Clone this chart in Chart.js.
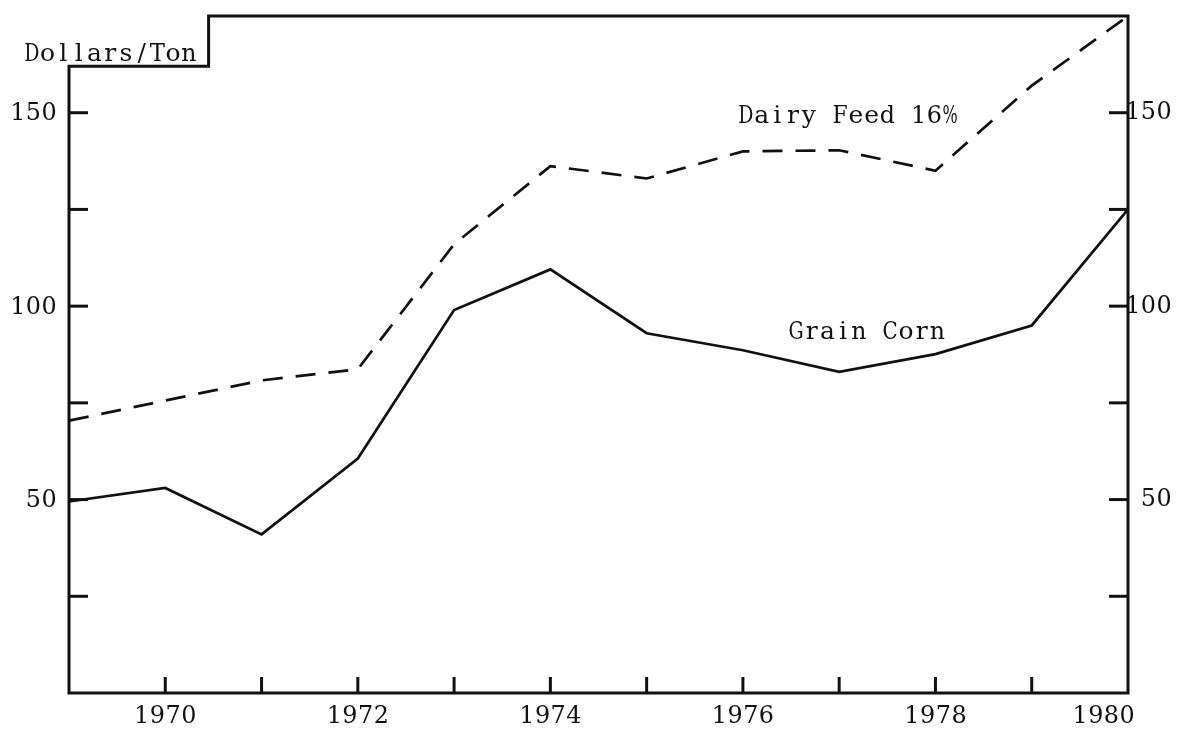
<!DOCTYPE html>
<html><head><meta charset="utf-8">
<script src="https://cdn.jsdelivr.net/npm/chart.js@4/dist/chart.umd.min.js"></script>
<style>html,body{margin:0;padding:0;background:#fff}#wrap{width:1178px;height:731px}</style>
</head><body><div id="wrap"><canvas id="c" width="1178" height="731"></canvas></div>
<script>
// ---- data ----
const years = [1969,1970,1971,1972,1973,1974,1975,1976,1977,1978,1979,1980];
const grainCorn = [49.5,53,41,60.6,99,109.5,93,88.6,83,87.6,95,125];
const dairyFeed = [70.4,75.6,80.8,83.7,116,136.2,133,140,140.3,135,157,175];
const seriesNames = ['Grain Corn','Dairy Feed 16%'];
const seriesLabelAt = [{year:1976.47, value:93.3},{year:1975.95, value:148.9}];
const yTickValues = [25,50,75,100,125,150];
const yLabelValues = [50,100,150];
const xTickYears = [1970,1971,1972,1973,1974,1975,1976,1977,1978,1979];
const xLabelYears = [1970,1972,1974,1976,1978,1980];
const unitLabel = 'Dollars/Ton';
const frameNotch = {year:1970.45, value:162};
const yRange = [0,175];
const xRange = [1969,1980];

const FONT = '25px "DejaVu Serif", "Liberation Serif", serif';
const CELL = 15.7;   // typewriter character pitch
const INK = '#111';

// typewriter-style text: one glyph per fixed-width cell
function typeText(ctx, str, x, y, align){
  const w = str.length * CELL;
  let x0 = align === 'right' ? x - w : align === 'center' ? x - w/2 : x;
  ctx.save();
  ctx.textAlign = 'center';
  for (let i = 0; i < str.length; i++){
    const ch = str[i];
    if (ch !== ' ') ctx.fillText(ch, x0 + (i + 0.5) * CELL, y, CELL - 0.5);
  }
  ctx.restore();
}

const decor = {
  id:'decor',
  beforeDatasetsDraw(chart){
    const ctx = chart.ctx, xs = chart.scales.x, ys = chart.scales.y;
    const L = xs.getPixelForValue(xRange[0]), R = xs.getPixelForValue(xRange[1]);
    const B = ys.getPixelForValue(yRange[0]), T = ys.getPixelForValue(yRange[1]);
    const nx = xs.getPixelForValue(frameNotch.year), ny = ys.getPixelForValue(frameNotch.value);
    ctx.save();
    ctx.strokeStyle = INK; ctx.lineWidth = 3; ctx.lineJoin = 'miter';
    ctx.beginPath();
    ctx.moveTo(L,B); ctx.lineTo(L,ny); ctx.lineTo(nx,ny); ctx.lineTo(nx,T);
    ctx.lineTo(R,T); ctx.lineTo(R,B); ctx.closePath(); ctx.stroke();
    yTickValues.forEach(v=>{
      const y = ys.getPixelForValue(v);
      ctx.beginPath(); ctx.moveTo(L,y); ctx.lineTo(L+19,y); ctx.stroke();
      ctx.beginPath(); ctx.moveTo(R-19,y); ctx.lineTo(R,y); ctx.stroke();
    });
    xTickYears.forEach(yr=>{
      const x = xs.getPixelForValue(yr);
      ctx.beginPath(); ctx.moveTo(x,B); ctx.lineTo(x,B-16); ctx.stroke();
    });
    ctx.restore();
  },
  afterDatasetsDraw(chart){
    const ctx = chart.ctx, xs = chart.scales.x, ys = chart.scales.y;
    const L = xs.getPixelForValue(xRange[0]), R = xs.getPixelForValue(xRange[1]);
    const B = ys.getPixelForValue(yRange[0]);
    ctx.save();
    ctx.fillStyle = INK; ctx.font = FONT;
    ctx.textBaseline = 'middle';
    yLabelValues.forEach(v=>{
      const y = ys.getPixelForValue(v);
      typeText(ctx, String(v), L-12, y+1, 'right');
      typeText(ctx, String(v), R+44, y, 'right');
    });
    ctx.textBaseline = 'top';
    xLabelYears.forEach((yr,i)=>{
      const x = xs.getPixelForValue(yr);
      if (i === xLabelYears.length-1) typeText(ctx, String(yr), R+7, B+11, 'right');
      else typeText(ctx, String(yr), x, B+11, 'center');
    });
    const nx = xs.getPixelForValue(frameNotch.year), ny = ys.getPixelForValue(frameNotch.value);
    ctx.textBaseline = 'alphabetic';
    typeText(ctx, unitLabel, nx-12, ny-5, 'right');
    ctx.textBaseline = 'middle';
    seriesNames.forEach((n,i)=>{
      typeText(ctx, n, xs.getPixelForValue(seriesLabelAt[i].year), ys.getPixelForValue(seriesLabelAt[i].value), 'left');
    });
    ctx.restore();
  }
};

new Chart(document.getElementById('c'), {
  type:'line',
  data:{
    datasets:[
      {label:seriesNames[0], data:years.map((x,i)=>({x, y:grainCorn[i]})), borderColor:INK, borderWidth:2.7, pointRadius:0, tension:0, fill:false, clip:false},
      {label:seriesNames[1], data:years.map((x,i)=>({x, y:dairyFeed[i]})), borderColor:INK, borderWidth:2.7, borderDash:[20,13], pointRadius:0, tension:0, fill:false, clip:false}
    ]
  },
  options:{
    responsive:false, animation:false, devicePixelRatio:1,
    layout:{padding:{top:16,left:0,right:5,bottom:0}},
    plugins:{legend:{display:false}, tooltip:{enabled:false}, title:{display:false}},
    scales:{
      x:{type:'linear', position:'bottom', min:xRange[0], max:xRange[1],
         grid:{display:false, drawTicks:false}, border:{display:false}, ticks:{display:false},
         afterFit(s){ s.height = 38; }},
      y:{position:'left', min:yRange[0], max:yRange[1],
         grid:{display:false, drawTicks:false}, border:{display:false}, ticks:{display:false},
         afterFit(s){ s.width = 69; }},
      y2:{position:'right', min:yRange[0], max:yRange[1],
         grid:{display:false, drawTicks:false}, border:{display:false}, ticks:{display:false},
         afterFit(s){ s.width = 45; }}
    }
  },
  plugins:[decor]
});
</script></body></html>
